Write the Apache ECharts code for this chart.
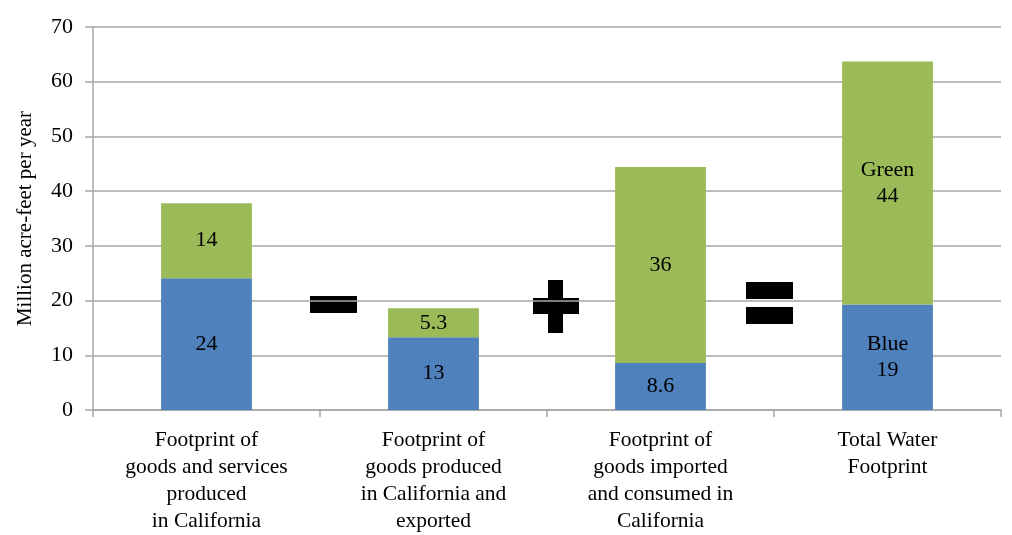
<!DOCTYPE html>
<html>
<head>
<meta charset="utf-8">
<script src="https://cdn.jsdelivr.net/npm/echarts@6/dist/echarts.min.js"></script>
<style>
  html, body { margin: 0; padding: 0; background: #fff; }
  #chart { width: 1012px; height: 535px; }
</style>
</head>
<body>
<div id="chart"></div>
<script>
  // data
  const categories = [
    'Footprint of\ngoods and services\nproduced\nin California',
    'Footprint of\ngoods produced\nin California and\nexported',
    'Footprint of\ngoods imported\nand consumed in\nCalifornia',
    'Total Water\nFootprint'
  ]
  const blueValues = [24.1, 13.3, 8.6, 19.3]
  const greenValues = [13.7, 5.3, 35.8, 44.4]
  const blueLabels = ['24', '13', '8.6', 'Blue\n19']
  const greenLabels = ['14', '5.3', '36', 'Green\n44']
  const yTicks = [0, 10, 20, 30, 40, 50, 60, 70]

  const FONT = '"Liberation Serif", "Times New Roman", serif'
  const GRID_COLOR = '#a6a6a6'

  let chart = echarts.init(document.getElementById('chart'))

  function barLabel(labels) {
    return {
      show: true,
      position: 'inside',
      color: '#000',
      fontFamily: FONT,
      fontSize: 22,
      lineHeight: 26,
      formatter: p => labels[p.dataIndex]
    }
  }

  let options = {
    animation: false,
    grid: { left: 93, right: 11, top: 27, bottom: 123 },
    xAxis: {
      type: 'category',
      data: categories,
      axisLine: { lineStyle: { color: GRID_COLOR, width: 1.5 } },
      axisTick: { show: true, length: 7, lineStyle: { color: GRID_COLOR, width: 1.5 } },
      axisLabel: {
        color: '#000',
        fontFamily: FONT,
        fontSize: 21.5,
        lineHeight: 27,
        margin: 17,
        interval: 0
      }
    },
    yAxis: {
      type: 'value',
      min: yTicks[0],
      max: yTicks[yTicks.length - 1],
      interval: 10,
      name: 'Million acre-feet per year',
      nameLocation: 'middle',
      nameRotate: 90,
      nameGap: 57,
      nameTextStyle: { color: '#000', fontFamily: FONT, fontSize: 21 },
      axisLine: { show: true, lineStyle: { color: GRID_COLOR, width: 1.5 } },
      axisTick: { show: true, length: 8, lineStyle: { color: GRID_COLOR, width: 1.5 } },
      axisLabel: { color: '#000', fontFamily: FONT, fontSize: 22, margin: 20 },
      splitLine: { lineStyle: { color: GRID_COLOR, width: 1.5 } }
    },
    series: [
      {
        name: 'Blue',
        type: 'bar',
        stack: 'total',
        barWidth: '40%',
        itemStyle: { color: '#4f81bd' },
        label: barLabel(blueLabels),
        data: blueValues
      },
      {
        name: 'Green',
        type: 'bar',
        stack: 'total',
        barWidth: '40%',
        itemStyle: { color: '#9bbb59' },
        label: barLabel(greenLabels),
        data: greenValues
      }
    ],
    // minus, plus and equals signs between the bars
    graphic: [
      { type: 'rect', shape: { x: 310, y: 296, width: 47, height: 17 }, style: { fill: '#000' } },
      { type: 'rect', shape: { x: 533, y: 298, width: 46, height: 16 }, style: { fill: '#000' } },
      { type: 'rect', shape: { x: 548, y: 280, width: 15, height: 53 }, style: { fill: '#000' } },
      { type: 'rect', shape: { x: 746, y: 282, width: 47, height: 17 }, style: { fill: '#000' } },
      { type: 'rect', shape: { x: 746, y: 307, width: 47, height: 17 }, style: { fill: '#000' } }
    ]
  }

  chart.setOption(options)
</script>
</body>
</html>
